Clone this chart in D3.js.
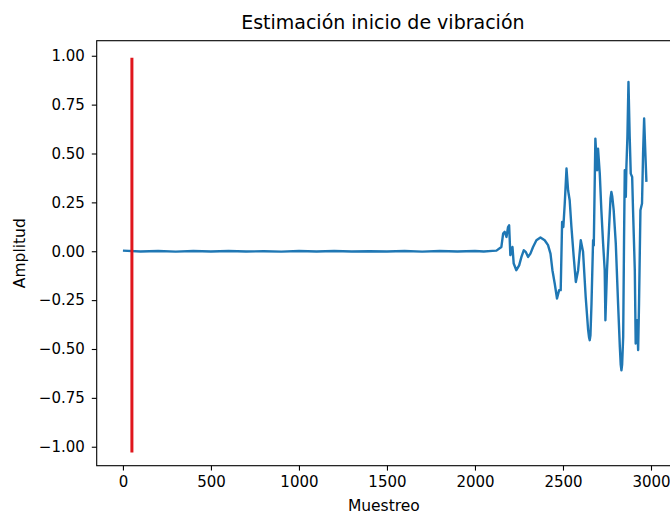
<!DOCTYPE html>
<html>
<head>
<meta charset="utf-8">
<script src="https://cdn.jsdelivr.net/npm/d3@7"></script>
<style>
  html, body { margin: 0; padding: 0; background: #fff; }
  svg { display: block; }
  text { font-family: "DejaVu Sans", sans-serif; fill: #000; }
</style>
</head>
<body>
<div id="chart"></div>
<script>
// Sample index and recorded amplitude of the vibration signal
const sampleIdx = [
  0, 100, 200, 300, 400, 500, 600, 700, 800, 900, 1000, 1100, 1200, 1300, 1400,
  1500, 1600, 1700, 1800, 1900, 2000, 2050, 2100, 2122,
  2150, 2160, 2169, 2179, 2188, 2194, 2201, 2213, 2220, 2235, 2251, 2264, 2277,
  2288, 2302, 2315, 2330, 2349, 2372, 2396, 2415, 2429, 2440, 2453, 2466, 2478,
  2487, 2495, 2502, 2510, 2520, 2529, 2538, 2548, 2561, 2573, 2586, 2601, 2614,
  2629, 2643, 2648, 2652, 2656, 2662, 2671, 2675, 2684, 2694, 2699, 2709, 2718, 2728, 2737,
  2741, 2750, 2762, 2770, 2775, 2780, 2788, 2800, 2813, 2823, 2828, 2832, 2836, 2842, 2847, 2851, 2857,
  2860, 2866, 2872, 2879, 2885, 2893, 2898, 2908, 2913, 2921, 2927, 2932, 2940,
  2949, 2955, 2961, 2968, 2974
];
const amplitude = [
  0.003, -0.001, 0.001, -0.002, 0.001, -0.001, 0.001, -0.001, 0.000, -0.002, 0.001, -0.001, 0.001, -0.001, 0.000,
  -0.001, 0.001, -0.002, 0.001, -0.001, 0.001, -0.001, 0.002, 0.003,
  0.022, 0.090, 0.099, 0.073, 0.124, 0.133, -0.020, 0.022, -0.063, -0.097, -0.072, -0.029, 0.005,
  -0.003, -0.029, -0.012, 0.022, 0.056, 0.070, 0.056, 0.031, -0.012, -0.097, -0.165, -0.242, -0.199,
  -0.199, 0.150, 0.124, 0.244, 0.423, 0.312, 0.261, 0.124, -0.029, -0.157, -0.097, 0.056, -0.003,
  -0.234, -0.404, -0.440, -0.455, -0.430, -0.268, 0.056, 0.030, 0.576, 0.414, 0.525, 0.397, 0.210, 0.039, -0.097,
  -0.353, -0.097, 0.124, 0.270, 0.303, 0.280, 0.210, 0.039, -0.268, -0.489, -0.580, -0.609, -0.580, -0.438, 0.073, 0.414, 0.278,
  0.423, 0.585, 0.866, 0.585, 0.397, 0.380, 0.210, -0.097, -0.472, -0.353, -0.506, -0.268, 0.210,
  0.244, 0.500, 0.679, 0.500, 0.355
];

// Estimated vibration onset marker
const onsetSample = 51;
const onsetRange = [-1.03, 0.99];

const xTicks = [0, 500, 1000, 1500, 2000, 2500, 3000];
const yTicks = [-1.0, -0.75, -0.5, -0.25, 0.0, 0.25, 0.5, 0.75, 1.0];

const W = 670, H = 514;
const plot = { left: 96.7, top: 40.7, right: 673, bottom: 465.7 };

const svg = d3.select("#chart").append("svg")
  .attr("width", W).attr("height", H);

const x = d3.scaleLinear().domain([-149, 3125]).range([plot.left, plot.right]);
const y = d3.scaleLinear().domain([-1.097, 1.077]).range([plot.bottom, plot.top]);

const fs = 15;

// Signal trace
const line = d3.line()
  .x((d, i) => x(sampleIdx[i]))
  .y(d => y(d));

svg.append("defs").append("clipPath").attr("id", "clip")
  .append("rect")
  .attr("x", plot.left).attr("y", plot.top)
  .attr("width", plot.right - plot.left).attr("height", plot.bottom - plot.top);

const g = svg.append("g").attr("clip-path", "url(#clip)");

g.append("path")
  .datum(amplitude)
  .attr("fill", "none")
  .attr("stroke", "#1f77b4")
  .attr("stroke-width", 2.4)
  .attr("stroke-linejoin", "round")
  .attr("stroke-linecap", "butt")
  .attr("d", line);

// Onset marker
g.append("line")
  .attr("x1", x(onsetSample)).attr("x2", x(onsetSample))
  .attr("y1", y(onsetRange[0])).attr("y2", y(onsetRange[1]))
  .attr("stroke", "#e0161c")
  .attr("stroke-width", 3);

// Axes
const xAxis = d3.axisBottom(x).tickValues(xTicks).tickFormat(d3.format("d"))
  .tickSizeInner(4.9).tickSizeOuter(0).tickPadding(5.5);
const yAxis = d3.axisLeft(y).tickValues(yTicks).tickFormat(d3.format(".2f"))
  .tickSizeInner(4.9).tickSizeOuter(0).tickPadding(7);

const gx = svg.append("g").attr("transform", `translate(0,${plot.bottom})`).call(xAxis);
const gy = svg.append("g").attr("transform", `translate(${plot.left},0)`).call(yAxis);

[gx, gy].forEach(a => {
  a.select(".domain").remove();
  a.selectAll(".tick line").attr("stroke", "#000").attr("stroke-width", 1.1);
  a.selectAll(".tick text").style("font-size", fs + "px").attr("fill", "#000")
    .style("font-family", "'DejaVu Sans', sans-serif");
});

// Frame
svg.append("rect")
  .attr("x", plot.left).attr("y", plot.top)
  .attr("width", plot.right - plot.left).attr("height", plot.bottom - plot.top)
  .attr("fill", "none").attr("stroke", "#000").attr("stroke-width", 1.1);

// Titles
svg.append("text")
  .attr("x", (plot.left + plot.right) / 2 - 2).attr("y", 29)
  .attr("text-anchor", "middle")
  .style("font-size", "19px")
  .text("Estimación inicio de vibración");

svg.append("text")
  .attr("x", (plot.left + plot.right) / 2 - 1).attr("y", 511)
  .attr("text-anchor", "middle")
  .style("font-size", "15.5px")
  .text("Muestreo");

svg.append("text")
  .attr("transform", `translate(24.5,${(plot.top + plot.bottom) / 2}) rotate(-90)`)
  .attr("text-anchor", "middle")
  .style("font-size", "15.5px")
  .text("Amplitud");
</script>
</body>
</html>
